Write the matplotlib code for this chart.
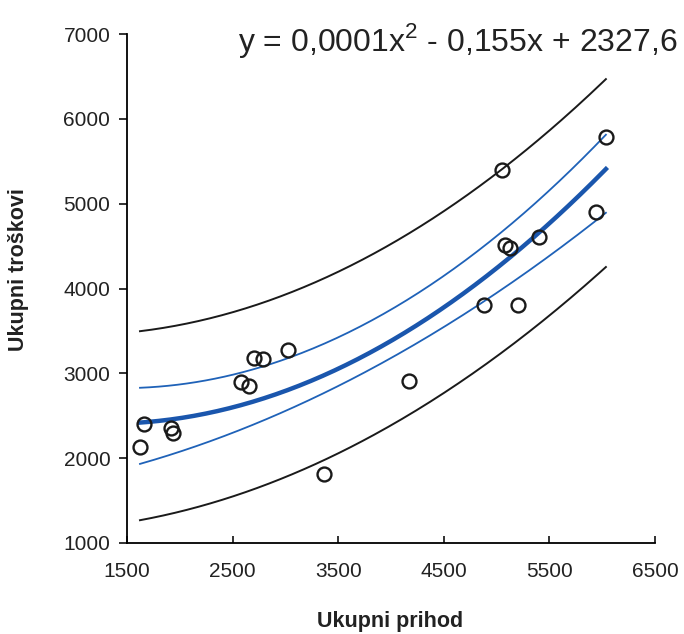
import numpy as np
import matplotlib
matplotlib.use("Agg")
import matplotlib.pyplot as plt

# Data
prihod = [1623, 1661, 1917, 1936, 2582, 2657, 2705, 2790, 3028, 3369,
          4166, 4877, 5048, 5076, 5123, 5199, 5398, 5939, 6035]
troskovi = [2132, 2403, 2356, 2297, 2898, 2851, 3181, 3169, 3275, 1813,
            2910, 3806, 5397, 4513, 4478, 3806, 4607, 4902, 5786]

# Band curves (x, y)
upper_pi_x = [1614, 2733, 2942, 3132, 3502, 4650, 4745, 6047]
upper_pi_y = [3484, 3841, 3903, 3982, 4198, 5043, 5102, 6490]
upper_ci_x = [1614, 3132, 3179, 4745, 4840, 5994]
upper_ci_y = [2835, 3216, 3248, 4375, 4474, 5751]
lower_ci_x = [1614, 3132, 3179, 4840, 4871, 5947]
lower_ci_y = [1928, 2627, 2666, 3786, 3865, 4808]
lower_pi_x = [1614, 3132, 3179, 4081, 4840, 5504, 6047]
lower_pi_y = [1271, 1841, 1861, 2450, 3078, 3668, 4269]

x_ticks = [1500, 2500, 3500, 4500, 5500, 6500]
y_ticks = [1000, 2000, 3000, 4000, 5000, 6000, 7000]
equation = "y = 0,0001x$^2$ - 0,155x + 2327,6"
x_label = "Ukupni prihod"
y_label = "Ukupni troškovi"

plt.rcParams['font.family'] = ['Liberation Sans', 'DejaVu Sans']
plt.rcParams['mathtext.fontset'] = 'custom'
plt.rcParams['mathtext.rm'] = 'Liberation Sans'

x = np.array(prihod, float)
y = np.array(troskovi, float)
xs = np.linspace(x.min(), x.max(), 200)
fit = np.polyval(np.polyfit(x, y, 2), xs)


def smooth(bx, by):
    return np.polyval(np.polyfit(bx, by, 2), xs)


fig = plt.figure(figsize=(6.84, 6.34), dpi=100)
ax = fig.add_axes([127/684, 1 - 543/634, (655-127)/684, (543-34)/634])

ax.plot(xs, smooth(upper_pi_x, upper_pi_y), color='#1a1a1a', lw=1.4)
ax.plot(xs, smooth(lower_pi_x, lower_pi_y), color='#1a1a1a', lw=1.4)
ax.plot(xs, smooth(upper_ci_x, upper_ci_y), color='#1f62b8', lw=1.3)
ax.plot(xs, smooth(lower_ci_x, lower_ci_y), color='#1f62b8', lw=1.3)
ax.plot(xs, fit, color='#1a56ad', lw=3.2)
ax.plot(x, y, 'o', mfc='none', mec='#1a1a1a', mew=1.7, ms=10)

ax.set_xlim(1500, 6500)
ax.set_ylim(1000, 7000)
ax.set_xticks(x_ticks)
ax.set_yticks(y_ticks)
ax.spines['top'].set_visible(False)
ax.spines['right'].set_visible(False)
for s in ['left', 'bottom']:
    ax.spines[s].set_linewidth(1.3)
ax.tick_params(axis='x', direction='in', length=5, width=1.3, labelsize=15, pad=14,
               colors='#222222')
ax.tick_params(axis='y', direction='out', length=6, width=1.3, labelsize=15, pad=6,
               colors='#222222')

fig.text(390/684, 1 - 621/634, x_label, fontsize=15.5, fontweight='bold',
         ha='center', va='center', color='#222222')
fig.text(19/684, 1 - 270/634, y_label, fontsize=15.5, fontweight='bold',
         ha='center', va='center', rotation=90, color='#222222')

fig.text(458/684, 1 - 40/634, equation, fontsize=23, ha='center', va='center',
         color='#222222')

fig.savefig('out.png', dpi=100)
